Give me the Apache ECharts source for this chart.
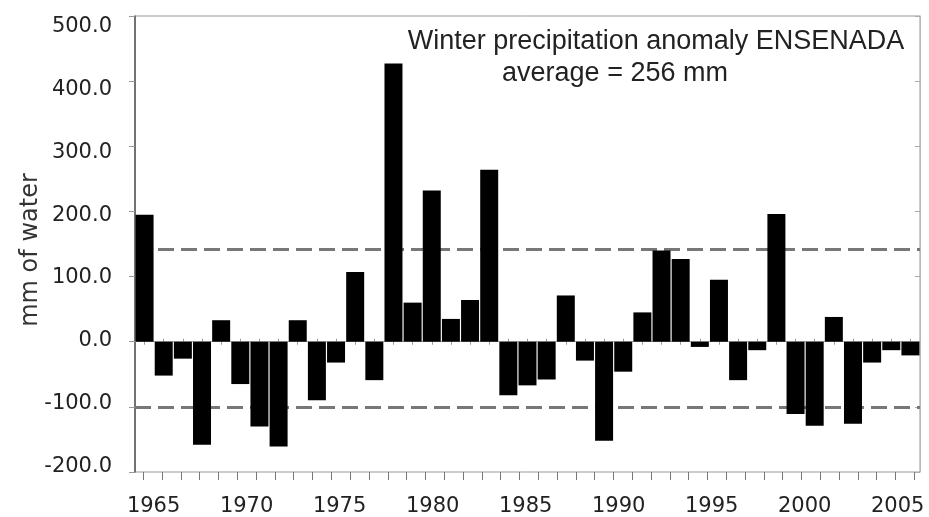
<!DOCTYPE html>
<html>
<head>
<meta charset="utf-8">
<script src="https://cdn.jsdelivr.net/npm/echarts@6/dist/echarts.min.js"></script>
<style>
html,body{margin:0;padding:0;background:#fff;}
#chart{width:929px;height:517px;}
</style>
</head>
<body>
<div id="chart"></div>
<script>
var years = [1965,1966,1967,1968,1969,1970,1971,1972,1973,1974,
             1975,1976,1977,1978,1979,1980,1981,1982,1983,1984,
             1985,1986,1987,1988,1989,1990,1991,1992,1993,1994,
             1995,1996,1997,1998,1999,2000,2001,2002,2003,2004,2005];
var anomaly = [195,-52,-26,-158,33,-65,-130,-161,33,-90,
               -32,107,-59,427,60,232,35,64,264,-82,
               -67,-58,71,-29,-152,-46,45,140,127,-8,
               95,-59,-13,196,-111,-129,38,-126,-32,-13,-21];
var thresholds = [142, -101];
var yTicks = [-200, -100, 0, 100, 200, 300, 400, 500];
var xLabelYears = [1965, 1970, 1975, 1980, 1985, 1990, 1995, 2000, 2005];
var titleLines = ['Winter precipitation anomaly ENSENADA', 'average = 256 mm'];
var yName = 'mm of water';

var chart = echarts.init(document.getElementById('chart'), null, {renderer: 'canvas'});
var yMin = yTicks[0], yMax = yTicks[yTicks.length - 1];
var lblFont = 'DejaVu Sans';

var option = {
  animation: false,
  backgroundColor: '#fff',
  graphic: [
    {type: 'text', x: 656, y: 42, z: 100,
     style: {text: titleLines[0], x: 0, y: 0, align: 'center', verticalAlign: 'middle',
             font: '27px "Liberation Sans", Arial, sans-serif', fill: '#222'}},
    {type: 'text', x: 615, y: 74, z: 100,
     style: {text: titleLines[1], x: 0, y: 0, align: 'center', verticalAlign: 'middle',
             font: '27px "Liberation Sans", Arial, sans-serif', fill: '#222'}}
  ],
  grid: [
    {left: 135, right: 9, top: 16, bottom: 45, show: true, borderColor: '#999', borderWidth: 1, backgroundColor: 'transparent'},
    {left: 143.3, right: 14.7, top: 16, bottom: 45},
    {left: 135, right: 9, top: 26.5, bottom: 50.3},
    {left: 135, right: 9, top: 16, bottom: 45}
  ],
  xAxis: [
    {type: 'category', gridIndex: 0, data: years,
     axisLine: {show: true, onZero: true, onZeroAxisIndex: 0, lineStyle: {color: '#aaa', width: 1}},
     axisTick: {show: true, inside: true, length: 3, alignWithLabel: true, interval: 0, lineStyle: {color: '#999'}},
     axisLabel: {show: false}, splitLine: {show: false}},
    {type: 'category', gridIndex: 0, data: years, position: 'bottom',
     axisLine: {show: false, onZero: true, onZeroAxisIndex: 1},
     axisTick: {show: true, inside: false, length: 3, alignWithLabel: true, interval: 0, lineStyle: {color: '#999'}},
     axisLabel: {show: false}, splitLine: {show: false}},
    {type: 'category', gridIndex: 1, data: years, position: 'bottom',
     axisLine: {show: false, onZero: false},
     axisTick: {show: true, inside: false, length: 8, interval: 0, alignWithLabel: false, lineStyle: {color: '#777', width: 1}},
     axisLabel: {show: false}, splitLine: {show: false}},
    {type: 'value', gridIndex: 2, show: false},
    {type: 'value', gridIndex: 3, min: 1964, max: 2006.2, position: 'bottom',
     axisLine: {show: false, onZero: false}, axisTick: {show: false}, splitLine: {show: false},
     axisLabel: {show: true, customValues: xLabelYears, margin: 26, fontFamily: lblFont, fontSize: 21, lineHeight: 21,
                 color: '#222', formatter: function (v) { return String(v); }}}
  ],
  yAxis: [
    {type: 'value', gridIndex: 0, min: yMin, max: yMax, interval: 100, position: 'left',
     name: yName, nameLocation: 'middle', nameGap: 92, nameRotate: 90,
     nameTextStyle: {fontFamily: lblFont, fontSize: 24, color: '#333', padding: [0, 12, 0, 0]},
     axisLine: {show: true, lineStyle: {color: '#555', width: 1.5}},
     axisTick: {show: true, inside: false, length: 6, lineStyle: {color: '#999'}},
     axisLabel: {show: false}, splitLine: {show: false}},
    {type: 'value', gridIndex: 0, min: yMin, max: yMax, interval: 100, position: 'right',
     axisLine: {show: true, lineStyle: {color: '#bbb', width: 1}},
     axisTick: {show: true, inside: true, length: 5, lineStyle: {color: '#aaa'}},
     axisLabel: {show: false}, splitLine: {show: false}},
    {type: 'value', gridIndex: 1, min: yMin, max: yMax, show: false},
    {type: 'value', gridIndex: 2, min: yMin, max: yMax, interval: 100, position: 'left',
     axisLine: {show: false}, axisTick: {show: false}, splitLine: {show: false},
     axisLabel: {show: true, margin: 23, fontFamily: lblFont, fontSize: 21, color: '#222',
                 formatter: function (v) { return v.toFixed(1); }}},
    {type: 'value', gridIndex: 3, min: yMin, max: yMax, show: false}
  ],
  series: [
    {type: 'bar', xAxisIndex: 0, yAxisIndex: 0, data: anomaly, barCategoryGap: '6%',
     itemStyle: {color: '#000'}, z: 3, silent: true,
     markLine: {silent: true, z: 1, symbol: ['none', 'none'], label: {show: false},
                lineStyle: {color: '#777', width: 3, type: [16, 7]},
                data: thresholds.map(function (t) { return {yAxis: t}; })}}
  ]
};
chart.setOption(option);
chart.getZr().storage.getDisplayList(true);
chart.setOption(option, true);
if (document.fonts && document.fonts.ready) {
  document.fonts.ready.then(function () { chart.setOption(option, true); });
}
</script>
</body>
</html>
